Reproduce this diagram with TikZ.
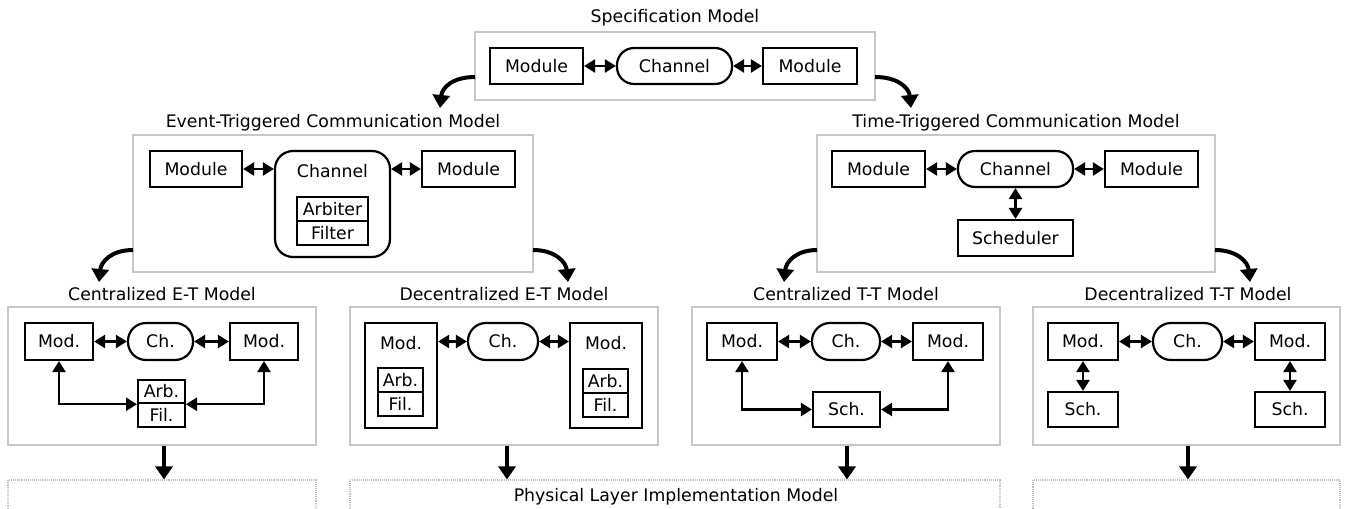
\documentclass[tikz,border=0pt]{standalone}
\usepackage{fontspec}
\setmainfont{DejaVu Sans}
\usetikzlibrary{arrows.meta}
\begin{document}
\begin{tikzpicture}[x=1pt,y=-1pt,
  every node/.style={font=\fontsize{17.3}{20}\selectfont, inner sep=0pt},
  frame/.style={draw=black!22, line width=1.2pt},
  lowframe/.style={draw=black!25, line width=1.1pt, densely dotted},
  box/.style={draw=black, line width=2.2pt},
  chan/.style={draw=black, line width=2.2pt, rounded corners=17pt},
  title/.style={},
  dbl/.style={line width=2.4pt, {Triangle[length=11pt,width=13pt]}-{Triangle[length=11pt,width=13pt]}},
  curve/.style={line width=4pt, -{Triangle[length=13pt,width=17pt]}},
  down/.style={line width=3.5pt, -{Triangle[length=13pt,width=17pt]}}
]
\clip (0,0) rectangle (1345,509);
\fill[white] (0,0) rectangle (1345,509);

% ---------- Specification model
\node[frame, minimum width=400pt, minimum height=68pt] (specF) at (675,66) {};
\node[title] (specT) at (675,18) {Specification Model};
\node[box, minimum width=93pt, minimum height=36pt] (sML) at (536.5,66) {Module};
\node[chan, minimum width=115pt, minimum height=36pt] (sCh) at (674.5,66) {Channel};
\node[box, minimum width=94pt, minimum height=36pt] (sMR) at (810,66) {Module};
\draw[dbl] (sML) -- (sCh);
\draw[dbl] (sCh) -- (sMR);

% ---------- Event-triggered
\node[frame, minimum width=400pt, minimum height=137pt] (etF) at (333,203.5) {};
\node[title] (etT) at (333,123) {Event-Triggered Communication Model};
\node[box, minimum width=92pt, minimum height=36pt] (eML) at (196,169) {Module};
\node[chan, rounded corners=18pt, minimum width=115pt, minimum height=106pt] (eCh) at (332.5,204) {};
\node (eChT) at (332.5,171) {Channel};
\node[box, line width=2pt, minimum width=71pt, minimum height=24pt] (eArb) at (332.5,209) {Arbiter};
\node[box, line width=2pt, minimum width=71pt, minimum height=24pt] (eFil) at (332.5,233) {Filter};
\node[box, minimum width=93pt, minimum height=36pt] (eMR) at (468.5,169) {Module};
\draw[dbl] (eML.east) -- (eML.east -| eCh.west);
\draw[dbl] (eMR.west -| eCh.east) -- (eMR.west);

% ---------- Time-triggered
\node[frame, minimum width=398pt, minimum height=137pt] (ttF) at (1016,203.5) {};
\node[title] (ttT) at (1016,123) {Time-Triggered Communication Model};
\node[box, minimum width=93pt, minimum height=36pt] (tML) at (878.5,169) {Module};
\node[chan, minimum width=115pt, minimum height=36pt] (tCh) at (1015.5,169) {Channel};
\node[box, minimum width=93pt, minimum height=36pt] (tMR) at (1151.5,169) {Module};
\node[box, minimum width=115pt, minimum height=36pt] (tSc) at (1015.5,238) {Scheduler};
\draw[dbl] (tML) -- (tCh);
\draw[dbl] (tCh) -- (tMR);
\draw[dbl] (tCh) -- (tSc);

% ---------- curved arrows
\coordinate (a1s) at (475,77);  \coordinate (a1e) at (440,108);
\coordinate (a2s) at (875,77);  \coordinate (a2e) at (911,108);
\coordinate (a3s) at (133,250); \coordinate (a3e) at (99,282);
\coordinate (a4s) at (533,250); \coordinate (a4e) at (568,282);
\coordinate (a5s) at (817,250); \coordinate (a5e) at (784,282);
\coordinate (a6s) at (1215,250);\coordinate (a6e) at (1250,282);
\draw[curve] (a1s) .. controls (452,77) and (442,88) .. (a1e);
\draw[curve] (a2s) .. controls (898,77) and (909,88) .. (a2e);
\draw[curve] (a3s) .. controls (111,250) and (101,262) .. (a3e);
\draw[curve] (a4s) .. controls (555,250) and (566,262) .. (a4e);
\draw[curve] (a5s) .. controls (796,250) and (786,262) .. (a5e);
\draw[curve] (a6s) .. controls (1237,250) and (1248,262) .. (a6e);

% ---------- Centralized E-T
\node[frame, minimum width=308pt, minimum height=138pt] (cetF) at (162,376) {};
\node[title] (cetT) at (162,294) {Centralized E-T Model};
\node[box, minimum width=68pt, minimum height=37pt] (cML) at (59,341.5) {Mod.};
\node[chan, rounded corners=18pt, minimum width=65pt, minimum height=37pt] (cCh) at (160.5,341.5) {Ch.};
\node[box, minimum width=68pt, minimum height=37pt] (cMR) at (264,341.5) {Mod.};
\node[box, line width=2pt, minimum width=47pt, minimum height=23.5pt] (cArb) at (161.5,391.5) {Arb.};
\node[box, line width=2pt, minimum width=47pt, minimum height=23.5pt] (cFil) at (161.5,415) {Fil.};
\draw[dbl] (cML) -- (cCh);
\draw[dbl] (cCh) -- (cMR);
\draw[dbl] (cML.south) |- (cArb.south west);
\draw[dbl] (cMR.south) |- (cArb.south east);

% ---------- Decentralized E-T
\node[frame, minimum width=308pt, minimum height=138pt] (detF) at (504,376) {};
\node[title] (detT) at (504,294) {Decentralized E-T Model};
\node[box, minimum width=72pt, minimum height=105pt] (dML) at (401,375.5) {};
\node (dMLT) at (401,343) {Mod.};
\node[box, line width=2pt, minimum width=45pt, minimum height=24pt] (dArbL) at (400.5,380) {Arb.};
\node[box, line width=2pt, minimum width=45pt, minimum height=24pt] (dFilL) at (400.5,404) {Fil.};
\node[chan, rounded corners=18pt, minimum width=70pt, minimum height=37pt] (dCh) at (503,341.5) {Ch.};
\node[box, minimum width=72pt, minimum height=105pt] (dMR) at (606,375.5) {};
\node (dMRT) at (606,343) {Mod.};
\node[box, line width=2pt, minimum width=45pt, minimum height=24pt] (dArbR) at (605.5,381) {Arb.};
\node[box, line width=2pt, minimum width=45pt, minimum height=24pt] (dFilR) at (605.5,405) {Fil.};
\draw[dbl] (dCh.west -| dML.east) -- (dCh.west);
\draw[dbl] (dCh.east) -- (dCh.east -| dMR.west);

% ---------- Centralized T-T
\node[frame, minimum width=308pt, minimum height=138pt] (cttF) at (846,376) {};
\node[title] (cttT) at (846,294) {Centralized T-T Model};
\node[box, minimum width=70pt, minimum height=37pt] (gML) at (742,341.5) {Mod.};
\node[chan, rounded corners=18pt, minimum width=68pt, minimum height=37pt] (gCh) at (846,341.5) {Ch.};
\node[box, minimum width=70pt, minimum height=37pt] (gMR) at (948,341.5) {Mod.};
\node[box, minimum width=67pt, minimum height=35pt] (gSc) at (846.5,409.5) {Sch.};
\draw[dbl] (gML) -- (gCh);
\draw[dbl] (gCh) -- (gMR);
\draw[dbl] (gML.south) |- (gSc.west);
\draw[dbl] (gMR.south) |- (gSc.east);

% ---------- Decentralized T-T
\node[frame, minimum width=307pt, minimum height=138pt] (dttF) at (1186.5,376) {};
\node[title] (dttT) at (1188,294) {Decentralized T-T Model};
\node[box, minimum width=70pt, minimum height=37pt] (hML) at (1083,341.5) {Mod.};
\node[chan, rounded corners=18pt, minimum width=69pt, minimum height=37pt] (hCh) at (1187.5,341.5) {Ch.};
\node[box, minimum width=70pt, minimum height=37pt] (hMR) at (1290,341.5) {Mod.};
\node[box, minimum width=70pt, minimum height=35pt] (hScL) at (1083,409.5) {Sch.};
\node[box, minimum width=70pt, minimum height=35pt] (hScR) at (1290,409.5) {Sch.};
\draw[dbl] (hML) -- (hCh);
\draw[dbl] (hCh) -- (hMR);
\draw[dbl] (hML) -- (hScL);
\draw[dbl] (hMR) -- (hScR);

% ---------- Physical layer frames
\node[lowframe, minimum width=308pt, minimum height=60pt] (p1F) at (162,510) {};
\node[lowframe, minimum width=650pt, minimum height=60pt] (p2F) at (675,510) {};
\node[lowframe, minimum width=307pt, minimum height=60pt] (p3F) at (1186.5,510) {};
\node[title] (pT) at (676,497) {Physical Layer Implementation Model};

\draw[down] (cetF.south -| 164,0) -- (p1F.north -| 164,0);
\draw[down] (detF.south -| 507,0) -- (p2F.north -| 507,0);
\draw[down] (cttF.south -| 847,0) -- (p2F.north -| 847,0);
\draw[down] (dttF.south -| 1188,0) -- (p3F.north -| 1188,0);
\end{tikzpicture}
\end{document}
